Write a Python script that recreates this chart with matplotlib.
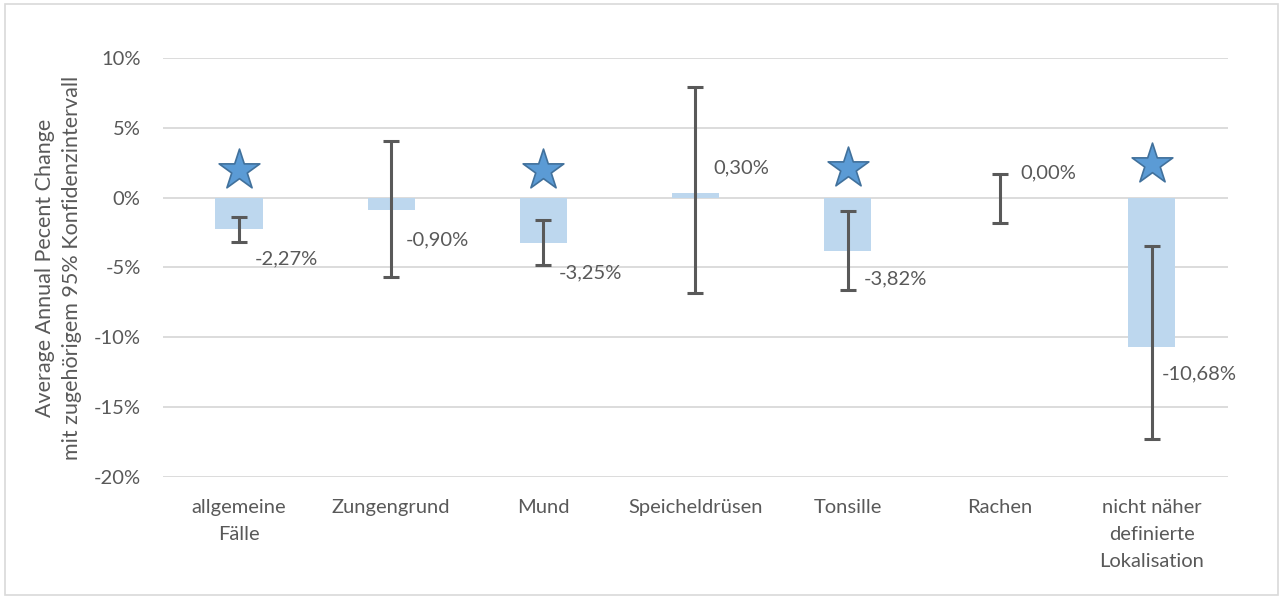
import matplotlib.pyplot as plt
import matplotlib.patches as patches
import numpy as np

categories = ['allgemeine\nFälle', 'Zungengrund', 'Mund', 'Speicheldrüsen',
              'Tonsille', 'Rachen', 'nicht näher\ndefinierte\nLokalisation']
apc = [-2.27, -0.90, -3.25, 0.30, -3.82, 0.00, -10.68]
ci_upper = [-1.36, 4.08, -1.58, 7.95, -0.93, 1.72, -3.44]
ci_lower = [-3.15, -5.66, -4.80, -6.80, -6.60, -1.79, -17.30]
significant = [True, False, True, False, True, False, True]
star_height = [2.0, None, 2.0, None, 2.1, None, 2.4]
labels = ['-2,27%', '-0,90%', '-3,25%', '0,30%', '-3,82%', '0,00%', '-10,68%']
yticks = [-20, -15, -10, -5, 0, 5, 10]

# where each value label sits: (x offset from bar centre, y in percent)
label_pos = [(0.105, -4.37), (0.099, -3.0), (0.105, -5.37), (0.118, 2.15),
             (0.105, -5.8), (0.138, 1.79), (0.066, -12.6)]

text_col = '#595959'
plt.rcParams['font.family'] = ['Lato', 'DejaVu Sans']

fig = plt.figure(figsize=(12.83, 5.99), dpi=100)
ax = fig.add_axes([0.127, 0.2037, 0.830, 0.6995])

x = np.arange(len(categories))
ax.bar(x, apc, width=0.31, color='#BDD7EE', zorder=2)

# error bars hang from the upper bound down to the lower bound
upper = np.array(ci_upper)
span = upper - np.array(ci_lower)
ax.errorbar(x, upper, yerr=[span, np.zeros(len(x))],
            fmt='none', ecolor=text_col, elinewidth=2.2, capsize=5.5, capthick=2.2, zorder=3)

sx = [xi for xi, s in zip(x, significant) if s]
sy = [h for h, s in zip(star_height, significant) if s]
ax.scatter(sx, sy, marker='*', s=950, color='#5B9BD5', edgecolor='#41719C',
           linewidth=1.2, zorder=4)

for xi, lab, (dx, ly) in zip(x, labels, label_pos):
    ax.text(xi + dx, ly, lab, fontsize=14.5, color=text_col, ha='left', va='center', zorder=5)

ax.set_ylim(-20, 10)
ax.set_xlim(-0.5, len(categories) - 0.5)
ax.set_yticks(yticks)
ax.set_yticklabels([f'{t}%' for t in yticks])
ax.set_xticks(x)
ax.set_xticklabels(categories, linespacing=1.7)
ax.tick_params(axis='both', length=0, labelsize=14.5, colors=text_col)
ax.tick_params(axis='y', pad=16)
ax.tick_params(axis='x', pad=16)
ax.grid(axis='y', color='#D9D9D9', linewidth=1.3, zorder=0)
ax.set_axisbelow(True)
for sp in ax.spines.values():
    sp.set_visible(False)

ax.set_ylabel('Average Annual Pecent Change\nmit zugehörigem 95% Konfidenzintervall',
              fontsize=15.5, color=text_col, labelpad=8, linespacing=1.45)

fig.patches.append(patches.Rectangle((0.004, 0.006), 0.992, 0.988, transform=fig.transFigure,
                                     fill=False, edgecolor='#D9D9D9', linewidth=1.2))

fig.savefig('out.png', dpi=100)
